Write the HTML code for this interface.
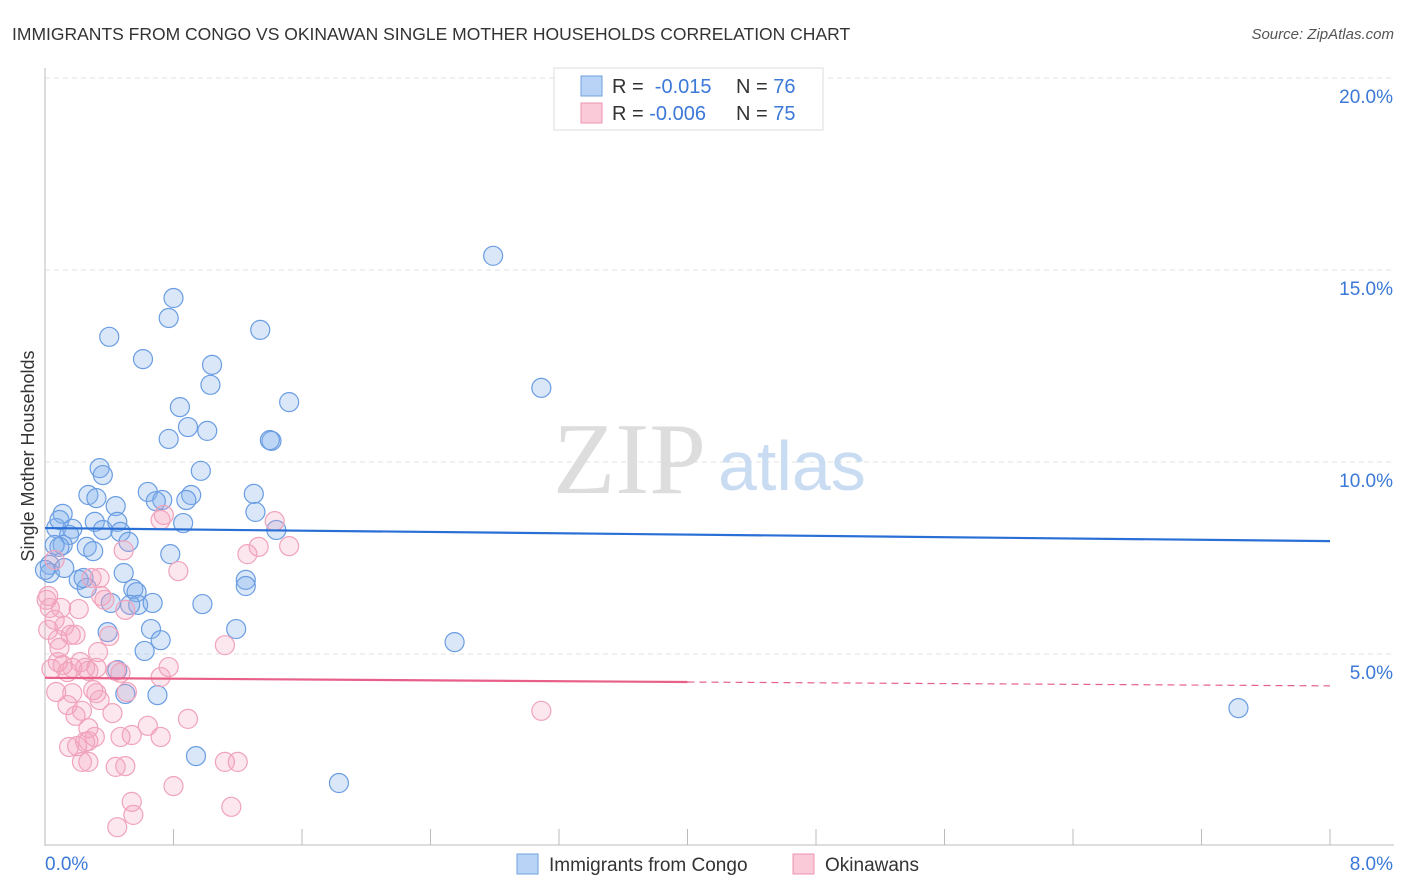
<!DOCTYPE html>
<html><head><meta charset="utf-8"><style>
body{margin:0;background:#fff;font-family:"Liberation Sans",sans-serif}
svg{display:block}
</style></head><body>
<svg id="chart" width="1406" height="892" xmlns="http://www.w3.org/2000/svg">
<text x="12" y="40" font-size="17.5" fill="#333">IMMIGRANTS FROM CONGO VS OKINAWAN SINGLE MOTHER HOUSEHOLDS CORRELATION CHART</text>
<text x="1394" y="39" font-size="15" fill="#555" font-style="italic" text-anchor="end">Source: ZipAtlas.com</text>
<g id="grid"></g>
<text x="553" y="493" font-size="102" fill="#ddd" font-family="Liberation Serif">ZIP</text>
<text x="718" y="490" font-size="70" fill="#c9dcf2">atlas</text>
<g id="axes"></g>
<text transform="translate(34,456) rotate(-90)" font-size="18" fill="#333" text-anchor="middle">Single Mother Households</text>
<g id="pts"></g>
<g id="trend"></g>
<g>
<rect x="554" y="68" width="269" height="62" fill="#fff" stroke="#ddd"/>
<rect x="581" y="76" width="21" height="20" fill="#b8d3f5" stroke="#6fa0e0"/>
<rect x="581" y="103" width="21" height="20" fill="#fbcad8" stroke="#ee93ae"/>
<text x="612" y="93" font-size="20" fill="#333">R = <tspan fill="#3b78d8">&#160;-0.015</tspan></text>
<text x="736" y="93" font-size="20" fill="#333">N = <tspan fill="#3b78d8">76</tspan></text>
<text x="612" y="120" font-size="20" fill="#333">R = <tspan fill="#3b78d8">-0.006</tspan></text>
<text x="736" y="120" font-size="20" fill="#333">N = <tspan fill="#3b78d8">75</tspan></text>
</g>
<g>
<rect x="517" y="854" width="21" height="20" fill="#b8d3f5" stroke="#6fa0e0"/>
<text x="549" y="871" font-size="19" fill="#333">Immigrants from Congo</text>
<rect x="793" y="854" width="21" height="20" fill="#fbcad8" stroke="#ee93ae"/>
<text x="825" y="871" font-size="19" fill="#333">Okinawans</text>
</g>
</svg>
<script>
const yTicks=[5,10,15,20];
const xTickLabels=["0.0%","8.0%"];
const blueX=[2.79,3.09,2.55,7.43,1.83,0.94,0.80,0.77,0.40,0.61,1.34,1.04,1.03,0.84,1.52,0.89,0.77,1.01,1.41,1.40,0.34,0.36,0.97,0.27,0.32,0.64,0.73,0.69,0.91,0.88,1.30,0.11,0.44,0.31,0.45,0.86,1.31,0.07,0.17,0.15,0.36,0.47,1.44,0.52,0.11,0.09,0.26,0.30,0.78,0.03,0.03,0.12,0.49,0.21,0.26,0.55,0.57,1.25,1.25,0.41,0.58,0.67,0.98,0.39,0.66,1.19,0.62,0.45,0.50,0.70,0.00,0.06,0.09,0.24,0.53,0.72];
const blueY=[15.37,11.93,5.31,3.59,1.64,2.34,14.27,13.75,13.26,12.68,13.44,12.53,12.01,11.43,11.56,10.91,10.60,10.81,10.55,10.57,9.84,9.66,9.77,9.14,9.06,9.22,9.01,8.98,9.14,9.01,9.17,8.65,8.85,8.44,8.44,8.41,8.70,8.28,8.26,8.10,8.23,8.18,8.23,7.92,7.84,7.79,7.79,7.68,7.60,7.32,7.11,7.24,7.11,6.93,6.72,6.69,6.61,6.93,6.77,6.33,6.28,6.33,6.30,5.57,5.65,5.65,5.08,4.58,3.96,3.93,7.19,7.84,8.49,6.98,6.28,5.36];
const pinkX=[0.74,1.43,0.49,1.26,1.33,1.52,0.83,0.34,0.01,0.03,0.35,0.37,0.10,0.21,0.06,0.50,0.40,0.02,0.08,0.16,0.19,0.09,0.33,1.12,0.08,0.11,0.17,0.22,0.32,0.27,0.44,0.25,0.77,0.04,0.14,0.72,0.47,0.30,0.17,0.07,0.32,0.51,0.42,0.23,0.19,0.14,0.27,0.27,0.47,0.31,0.54,0.64,0.72,0.89,0.15,0.20,0.25,0.23,0.27,0.44,0.50,1.12,1.20,0.80,0.54,0.55,0.45,1.16,3.09,0.06,0.02,0.29,0.72,0.12,0.34];
const pinkY=[8.62,8.46,7.70,7.60,7.79,7.81,7.16,6.98,6.41,6.20,6.51,6.41,6.20,6.17,5.89,6.15,5.47,5.63,5.37,5.50,5.50,5.16,5.05,5.23,4.79,4.71,4.64,4.79,4.64,4.56,4.56,4.64,4.66,4.61,4.53,4.40,4.51,4.06,3.98,4.01,3.98,4.01,3.46,3.52,3.39,3.67,3.07,2.73,2.84,2.84,2.89,3.13,2.84,3.31,2.58,2.60,2.71,2.19,2.19,2.06,2.08,2.19,2.19,1.56,1.15,0.81,0.49,1.02,3.52,7.45,6.51,6.98,8.49,5.73,3.80];
const blueTrend=[8.28,7.94];
const pinkTrend=[4.38,4.27,4.17];
const NS="http://www.w3.org/2000/svg";
const X0=45,X1=1330,Y0=846,PX=38.4;
const xs=v=>X0+(X1-X0)*v/8, ys=v=>Y0-v*PX;
function mk(tag,attrs,parent){const e=document.createElementNS(NS,tag);for(const k in attrs)e.setAttribute(k,attrs[k]);parent.appendChild(e);return e;}
const grid=document.getElementById('grid'),axes=document.getElementById('axes'),pts=document.getElementById('pts'),trend=document.getElementById('trend');
yTicks.forEach(t=>{
  const l=mk('line',{x1:45,x2:1394,y1:ys(t),y2:ys(t),stroke:'#e2e2e2','stroke-dasharray':'5,4'},grid);
  
  
  const tx=mk('text',{x:1393,y:ys(t)+25,'font-size':19,fill:'#3b78d8','text-anchor':'end'},axes);
  tx.textContent=t.toFixed(1)+'%';
  
  
});
const la=mk('line',{x1:45,x2:45,y1:68,y2:846,stroke:'#bbb'},axes);


const ba=mk('line',{x1:45,x2:1394,y1:845,y2:845,stroke:'#bbb'},axes);


for(let i=0;i<=10;i++){
  const tk=mk('line',{x1:xs(i*0.8),x2:xs(i*0.8),y1:829,y2:845,stroke:'#bbb'},axes);
  
  
}
[[0,'start',45],[8,'end',1393]].forEach((p,i)=>{
  const tx=mk('text',{x:p[2],y:870,'font-size':19,fill:'#3b78d8','text-anchor':p[1]},axes);
  tx.textContent=xTickLabels[i];
  
  
});
blueX.forEach((x,i)=>{
  const c=mk('circle',{cx:xs(x),cy:ys(blueY[i]),r:9.5,fill:'rgba(130,175,235,0.3)',stroke:'#6a9de2','stroke-width':1.2},pts);
  
  
});
pinkX.forEach((x,i)=>{
  const c=mk('circle',{cx:xs(x),cy:ys(pinkY[i]),r:9.5,fill:'rgba(245,160,188,0.25)',stroke:'#f0a3bb','stroke-width':1.2},pts);
  
  
});
const bl=mk('line',{x1:xs(0),x2:xs(8),y1:ys(blueTrend[0]),y2:ys(blueTrend[1]),stroke:'#2a6fd6','stroke-width':2.2},trend);


const pl=mk('line',{x1:xs(0),x2:xs(4),y1:ys(pinkTrend[0]),y2:ys(pinkTrend[1]),stroke:'#e8608a','stroke-width':2.2},trend);


const pd=mk('line',{x1:xs(4),x2:xs(8),y1:ys(pinkTrend[1]),y2:ys(pinkTrend[2]),stroke:'#e8608a','stroke-width':1.2,'stroke-dasharray':'7,5'},trend);


</script>
</body></html>
